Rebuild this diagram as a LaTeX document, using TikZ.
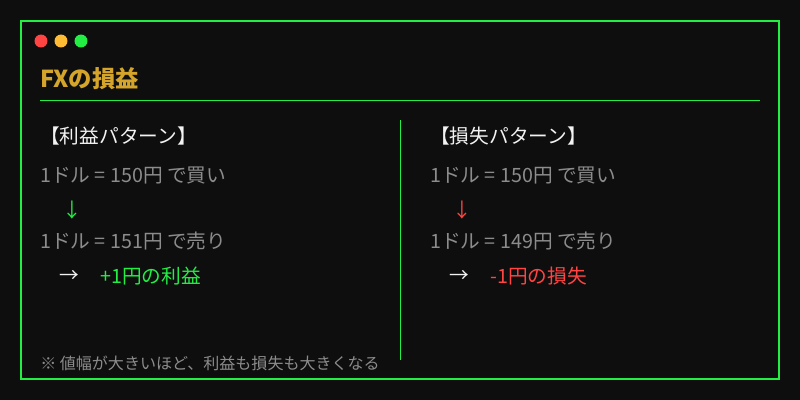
\documentclass[tikz,border=0pt]{standalone}
\usepackage{fontspec}
\setmainfont{Noto Sans CJK JP}
\definecolor{bg}{HTML}{0E0E0E}
\definecolor{fxgreen}{HTML}{22EE44}
\definecolor{fxred}{HTML}{FF4444}
\definecolor{fxyellow}{HTML}{FFBB33}
\definecolor{fxgold}{HTML}{D4A52A}
\definecolor{fxgray}{HTML}{8C8C8C}
\definecolor{fxwhite}{HTML}{F2F2F2}
\tikzset{
    frame/.style={draw=fxgreen, line width=1.4pt},
    rule/.style={draw=fxgreen, line width=0.7pt},
    dot/.style={circle, fill=#1, inner sep=0, minimum size=9.2pt},
    txt/.style={anchor=west, inner sep=0, font=\fontsize{14pt}{16pt}\selectfont},
    head/.style={style=txt, text=fxwhite},
    price/.style={style=txt, text=fxgray},
    note/.style={anchor=west, inner sep=0, text=fxgray, font=\fontsize{11.4pt}{13pt}\selectfont},
    ttl/.style={anchor=west, inner sep=0, text=fxgold, font=\fontsize{16.6pt}{19pt}\selectfont\bfseries}
}
\begin{document}
\begin{tikzpicture}[x=0.025cm, y=-0.025cm]
  \fill[bg] (0,0) rectangle (800,400);
  \useasboundingbox (0,0) rectangle (800,400);
  \draw[frame] (21,21) rectangle (779,379);

  % window dots
  \node[dot=fxred] (d1) at (41,41) {};
  \node[dot=fxyellow] (d2) at (61,41) {};
  \node[dot=fxgreen] (d3) at (81,41) {};

  % title
  \node[ttl] (title) at (40,79) {FXの損益};
  \draw[rule] (40,100.5) -- (760,100.5);
  \draw[rule] (400.5,120) -- (400.5,360);

  % left: profit
  \node[head] (phead) at (40,136) {【利益パターン】};
  \node[price] (pbuy) at (40,176) {1ドル = 150円 で買い};
  \node[txt, text=fxgreen] (pdown) at (62,210) {↓};
  \node[price] (psell) at (40,241) {1ドル = 151円 で売り};
  \node[txt, text=fxwhite] (pto) at (59,276) {→};
  \node[txt, text=fxgreen] (pres) at (100,276) {+1円の利益};

  % right: loss
  \node[head] (lhead) at (430,136) {【損失パターン】};
  \node[price] (lbuy) at (430,176) {1ドル = 150円 で買い};
  \node[txt, text=fxred] (ldown) at (452,210) {↓};
  \node[price] (lsell) at (430,241) {1ドル = 149円 で売り};
  \node[txt, text=fxwhite] (lto) at (449,276) {→};
  \node[txt, text=fxred] (lres) at (490,276) {-1円の損失};

  \node[note] (foot) at (40,363) {※ 値幅が大きいほど、利益も損失も大きくなる};
\end{tikzpicture}
\end{document}
